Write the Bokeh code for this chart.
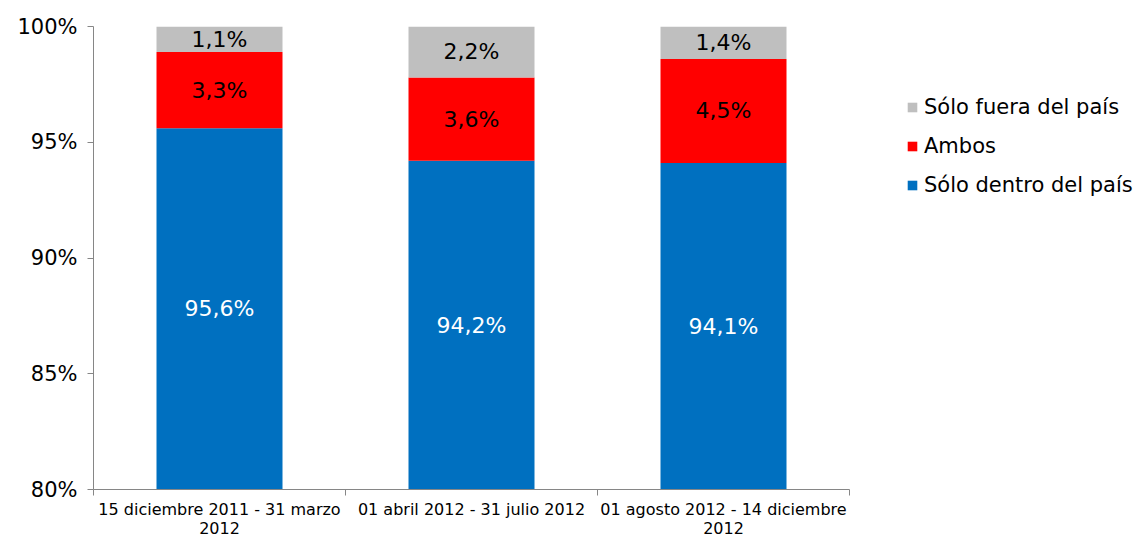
from bokeh.plotting import figure
from bokeh.models import ColumnDataSource, FixedTicker, Legend, LegendItem, Range1d
from bokeh.embed import file_html
from bokeh.resources import INLINE
from bokeh.core.properties import value

categories = ["15 diciembre 2011 - 31 marzo\n2012", "01 abril 2012 - 31 julio 2012", "01 agosto 2012 - 14 diciembre\n2012"]
dentro = [95.6, 94.2, 94.1]
ambos = [3.3, 3.6, 4.5]
fuera = [1.1, 2.2, 1.4]
series_names = ["Sólo dentro del país", "Ambos", "Sólo fuera del país"]
colors = ["#0070C0", "#FF0000", "#BFBFBF"]
y_ticks = [80, 85, 90, 95, 100]

FONT = "DejaVu Sans"
xs = [i + 0.5 for i in range(len(categories))]
fmt = lambda v: f"{v:.1f}".replace(".", ",") + "%"

y0 = y_ticks[0]
src = ColumnDataSource(dict(
    x=xs, dentro=dentro, ambos=ambos, fuera=fuera,
    y_d=[(y0 + d) / 2 for d in dentro],
    y_a=[d + a / 2 for d, a in zip(dentro, ambos)],
    y_f=[d + a + f / 2 for d, a, f in zip(dentro, ambos, fuera)],
    t_d=[fmt(v) for v in dentro], t_a=[fmt(v) for v in ambos], t_f=[fmt(v) for v in fuera],
))

p = figure(width=1132, height=528, frame_width=756, frame_height=463,
           x_range=Range1d(0, len(categories)), y_range=Range1d(y_ticks[0], y_ticks[-1]),
           output_backend="svg", toolbar_location=None,
           min_border_left=93, min_border_top=26, min_border_bottom=39, min_border_right=283)
p.outline_line_color = None
p.xgrid.visible = False
p.ygrid.visible = False

rs = p.vbar_stack(["dentro", "ambos", "fuera"], x="x", width=0.5, source=src,
                  color=colors, line_color=None)

LBL = "22px"
p.text(x="x", y="y_d", text="t_d", source=src, text_color="white", text_align="center",
       text_baseline="middle", text_font=value(FONT), text_font_size=LBL)
p.text(x="x", y="y_a", text="t_a", source=src, text_color="black", text_align="center",
       text_baseline="middle", text_font=value(FONT), text_font_size=LBL)
p.text(x="x", y="y_f", text="t_f", source=src, text_color="black", text_align="center",
       text_baseline="middle", text_font=value(FONT), text_font_size=LBL)

# y axis
ya = p.yaxis[0]
ya.ticker = FixedTicker(ticks=y_ticks)
ya.major_label_overrides = {t: f"{t}%" for t in y_ticks}
ya.major_label_text_font = FONT
ya.major_label_text_font_size = "21px"
ya.major_label_text_color = "black"
ya.axis_line_color = "#868686"
ya.major_tick_line_color = "#868686"
ya.major_tick_in = 0
ya.major_tick_out = 6
ya.minor_tick_line_color = None
ya.major_label_standoff = 10

# x axis
xa = p.xaxis[0]
xa.ticker = FixedTicker(ticks=xs, minor_ticks=list(range(len(categories) + 1)))
xa.major_label_overrides = {x: c for x, c in zip(xs, categories)}
xa.major_label_text_font = FONT
xa.major_label_text_font_size = "16px"
xa.major_label_text_color = "black"
xa.major_label_text_line_height = 1.0
xa.axis_line_color = "#868686"
xa.major_tick_line_color = None
xa.major_tick_out = 0
xa.major_tick_in = 0
xa.minor_tick_line_color = "#868686"
xa.minor_tick_in = 0
xa.minor_tick_out = 6
xa.major_label_standoff = 4

legend = Legend(items=[LegendItem(label=series_names[i], renderers=[rs[i]]) for i in (2, 1, 0)],
                location=(57, 292), label_text_font=FONT, label_text_font_size="21px",
                label_text_color="black",
                glyph_width=12, glyph_height=12, label_height=20, spacing=15, padding=0, margin=0,
                label_standoff=6, border_line_color=None, background_fill_alpha=0)
p.add_layout(legend, "right")

open("out.html", "w").write(file_html(p, INLINE))
